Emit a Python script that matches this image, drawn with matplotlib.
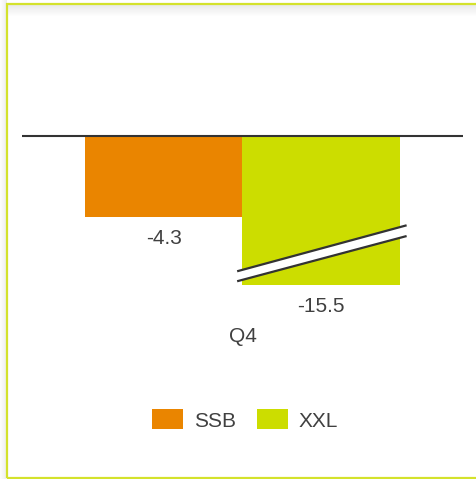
import matplotlib.pyplot as plt
from matplotlib.patches import Rectangle, Polygon

# Datos
categorias = ['Q4']
series = ['SSB', 'XXL']
valores = [-4.3, -15.5]
colores = ['#EA8500', '#CCDD00']
corte = -7.9  # donde se corta la barra que no cabe

plt.rcParams['font.family'] = ['Liberation Sans', 'DejaVu Sans']
gris = '#404040'

W, H = 477, 479
fig = plt.figure(figsize=(W / 100, H / 100), dpi=100)

# marco y sombra
for i in range(12):
    a = 0.09 * (1 - i / 12)
    fig.patches.append(Rectangle((8 / W, 1 - (5 + i) / H), 1, 1 / H, transform=fig.transFigure,
                                 color='black', alpha=a, lw=0))
for i in range(7):
    a = 0.07 * (1 - i / 7)
    fig.patches.append(Rectangle(((6 - i) / W, 0), 1 / W, 1, transform=fig.transFigure,
                                 color='black', alpha=a, lw=0))
fig.patches.append(Rectangle((7.5 / W, 1.2 / H), 1.2, 1 - 4.7 / H, transform=fig.transFigure,
                             fill=False, edgecolor='#D4E22C', lw=1.6))

# ejes: de x=22 a 463, de y=30 a 320 (pixeles)
ax = fig.add_axes([22 / W, 1 - 320 / H, 441 / W, 290 / H])
ax.set_xlim(-0.7, 0.7)
ax.set_ylim(-(320 - 136) / 18.84, (136 - 30) / 18.84)

ancho = 0.5
xs = [-0.25, 0.25]
for x, v, c, s in zip(xs, valores, colores, series):
    alto = max(v, corte)
    ax.bar(x, alto, width=ancho, color=c, label=s, zorder=2)
    ax.annotate(f'{v}', (x, alto), xytext=(0, -15.5), textcoords='offset points',
                ha='center', va='center', fontsize=15, color=gris)

# marca de corte en la barra larga
x0, x1 = -0.017, 0.521
sup = [-7.18, -4.74]
inf = [-7.71, -5.31]
ax.add_patch(Polygon([(x0, sup[0]), (x1, sup[1]), (x1, inf[1]), (x0, inf[0])],
                     closed=True, color='white', lw=0, zorder=3))
ax.plot([x0, x1], sup, color='#333333', lw=1.6, zorder=4, solid_capstyle='butt')
ax.plot([x0, x1], inf, color='#333333', lw=1.6, zorder=4, solid_capstyle='butt')

ax.axhline(0, color='#333333', lw=1.5, zorder=5)

ax.set_xticks([0])
ax.set_xticklabels(categorias, fontsize=15, color=gris)
ax.tick_params(axis='x', length=0, pad=5)
ax.set_yticks([])
for sp in ax.spines.values():
    sp.set_visible(False)
ax.patch.set_visible(False)

fig.legend(loc='center', bbox_to_anchor=(245 / W, 1 - 420 / H), ncol=2, frameon=False,
           fontsize=15, handlelength=1.49, handleheight=1.1, handletextpad=0.53,
           columnspacing=1.0, labelcolor=gris)

fig.savefig('out.png', dpi=100)
